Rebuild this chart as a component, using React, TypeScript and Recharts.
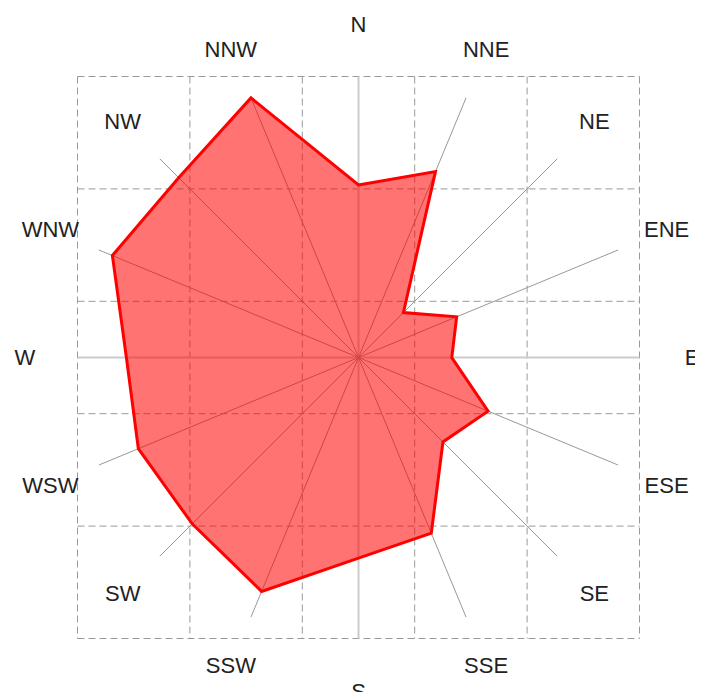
import React from "react";
import {
  RadarChart,
  Radar,
  PolarGrid,
  PolarAngleAxis,
  PolarRadiusAxis,
  ScatterChart,
  Scatter,
  XAxis,
  YAxis,
  CartesianGrid,
} from "recharts";

const directions = ["N", "NNE", "NE", "ENE", "E", "ESE", "SE", "SSE", "S", "SSW", "SW", "WSW", "W", "WNW", "NW", "NNW"];
const frequencies = [6.14, 7.16, 2.26, 3.78, 3.32, 4.99, 4.25, 6.77, 7.14, 9.01, 8.37, 8.48, 8.26, 9.48, 9.05, 10.0];
const radiusDomain = [0, 10];
const gridTicks = [-2.5, -1.5, -0.5, 0.5, 1.5, 2.5];

const W = 703;
const H = 700;
const CX = 358.5;
const CY = 357.5;
const R = 281;
const LABEL_R = 333.5;

const data = directions.map((d, i) => ({ dir: d, v: frequencies[i] }));
const step = 360 / directions.length;
const allAngles = directions.map((_, i) => 90 - i * step);
const cardinalAngles = allAngles.filter((_, i) => i % 4 === 0);
const otherAngles = allAngles.filter((_, i) => i % 4 !== 0);

const AngleTick = (props: any) => {
  const { x, y, payload } = props;
  const dx = x - CX;
  const dy = y - CY;
  const d = Math.sqrt(dx * dx + dy * dy) || 1;
  const tx = CX + (dx / d) * LABEL_R;
  const ty = CY + (dy / d) * LABEL_R;
  return (
    <text
      x={tx}
      y={ty}
      textAnchor="middle"
      dominantBaseline="central"
      fontSize={22}
      fontFamily="'Liberation Sans', Arial, sans-serif"
      fill="#222"
    >
      {payload.value}
    </text>
  );
};

export default function App() {
  return (
    <div style={{ position: "relative", width: W - 16, height: H - 16 }}>
      <style>{"html, body { overflow: hidden; }"}</style>
      <div style={{ position: "absolute", left: -8, top: -8 }}>
        <ScatterChart
          width={W}
          height={H}
          margin={{ top: CY - R, left: CX - R, right: W - (CX + R), bottom: H - (CY + R) }}
        >
          <CartesianGrid stroke="#999" strokeDasharray="7 4" strokeWidth={1} />
          <XAxis type="number" dataKey="x" domain={[-2.5, 2.5]} ticks={gridTicks} allowDataOverflow hide />
          <YAxis type="number" dataKey="y" domain={[-2.5, 2.5]} ticks={gridTicks} allowDataOverflow hide />
          <Scatter data={[]} isAnimationActive={false} />
        </ScatterChart>
      </div>
      <div style={{ position: "absolute", left: -8, top: -8 }}>
        <RadarChart
          width={W}
          height={H}
          cx={CX}
          cy={CY}
          outerRadius={R}
          data={data}
          margin={{ top: 0, left: 0, right: 0, bottom: 0 }}
        >
          <PolarGrid gridType="polygon" polarRadius={[]} polarAngles={cardinalAngles} stroke="#ccc" strokeWidth={2} />
          <PolarGrid gridType="polygon" polarRadius={[]} polarAngles={otherAngles} stroke="#999" strokeWidth={1} />
          <PolarAngleAxis dataKey="dir" tick={<AngleTick />} axisLine={false} tickLine={false} />
          <PolarRadiusAxis domain={radiusDomain} tick={false} axisLine={false} />
          <Radar
            dataKey="v"
            stroke="#ff0000"
            strokeWidth={3}
            fill="#ff0000"
            fillOpacity={0.55}
            isAnimationActive={false}
            dot={false}
          />
        </RadarChart>
      </div>
    </div>
  );
}
